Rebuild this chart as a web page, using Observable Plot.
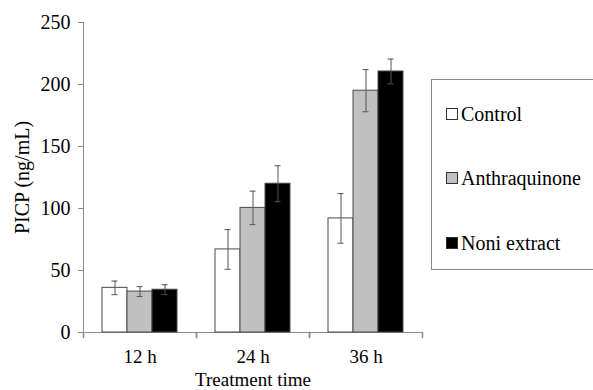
<!DOCTYPE html>
<html><head><meta charset="utf-8">
<script src="https://cdn.jsdelivr.net/npm/d3@7"></script>
<script src="https://cdn.jsdelivr.net/npm/@observablehq/plot@0.6"></script>
<style>
body{margin:0;background:#fff;}
#wrap{position:relative;width:593px;height:390px;font-family:"Liberation Serif",Tinos,"DejaVu Serif",serif;color:#000;}
#wrap svg{position:absolute;left:0;top:0;font-family:"Liberation Serif",Tinos,"DejaVu Serif",serif !important;}
#wrap svg text{font-family:"Liberation Serif",Tinos,"DejaVu Serif",serif !important;}
.legend{position:absolute;left:431px;top:79px;width:170px;height:191px;border:1.5px solid #8a8a8a;border-right:none;box-sizing:border-box;background:#fff;}
.item{position:absolute;left:14px;font-size:20px;line-height:20px;height:20px;display:flex;align-items:center;white-space:nowrap;}
.sw{width:12px;height:12px;border:1px solid #333;margin-right:3px;box-sizing:border-box;}
</style></head><body><div id="wrap"></div>
<script>
const times = ["12 h", "24 h", "36 h"];
const series = ["Control", "Anthraquinone", "Noni extract"];
const control = [36, 67, 92];
const controlErr = [5.5, 16, 20];
const anthraquinone = [33, 100.5, 195];
const anthraquinoneErr = [4, 13.5, 17];
const noni = [34.5, 120, 210.5];
const noniErr = [4, 14.5, 10];
const fills = ["#ffffff", "#c0c0c0", "#000000"];
const yTicks = [0, 50, 100, 150, 200, 250];

const values = [control, anthraquinone, noni];
const errs = [controlErr, anthraquinoneErr, noniErr];
const data = times.flatMap((t, i) => series.map((s, j) => ({time: t, series: s, value: values[j][i], err: errs[j][i]})));

const axisGray = "#8a8a8a";
const errColor = "#555";
const vline = {draw(ctx, l) { ctx.moveTo(0, 0); ctx.lineTo(0, -l); }};

const chart = Plot.plot({
  width: 593, height: 390,
  marginLeft: 82, marginRight: 170, marginTop: 22, marginBottom: 58,
  style: {fontSize: "20px", color: "#000", background: "transparent", overflow: "visible"},
  fx: {domain: times, padding: 0},
  x: {domain: series, axis: null, paddingInner: 0, paddingOuter: 0.72},
  y: {domain: [0, 250]},
  color: {domain: series, range: fills},
  marks: [
    Plot.frame({anchor: "left", facetAnchor: "left", stroke: axisGray}),
    Plot.ruleY([0], {stroke: axisGray}),
    Plot.vector([null], {frameAnchor: "bottom-left", length: 5, rotate: 180, anchor: "start", stroke: axisGray, shape: vline}),
    Plot.vector([null], {frameAnchor: "bottom-right", length: 5, rotate: 180, anchor: "start", stroke: axisGray, shape: vline}),
    Plot.axisY({ticks: yTicks, tickSize: 5, tickPadding: 8, stroke: axisGray, color: "#000", label: "PICP (ng/mL)", labelAnchor: "center", labelOffset: 69, labelArrow: "none"}),
    Plot.axisFx({anchor: "bottom", tickSize: 0, tickPadding: 17, color: "#000", fontSize: 19, label: "Treatment time", labelAnchor: "center", labelOffset: 53, labelArrow: "none"}),
    Plot.barY(data, {fx: "time", x: "series", y: "value", fill: "series", stroke: "#4a4a4a", strokeWidth: 1}),
    Plot.ruleX(data, {fx: "time", x: "series", y1: d => d.value - d.err, y2: d => d.value + d.err, stroke: errColor}),
    Plot.tickY(data, {fx: "time", x: "series", y: d => d.value + d.err, inset: 9.5, stroke: errColor}),
    Plot.tickY(data, {fx: "time", x: "series", y: d => d.value - d.err, inset: 9.5, stroke: errColor})
  ]
});
const wrap = document.getElementById("wrap");
wrap.appendChild(chart);

const legend = document.createElement("div");
legend.className = "legend";
const itemTops = [24, 88, 153];
series.forEach((s, j) => {
  const it = document.createElement("div");
  it.className = "item";
  it.style.top = itemTops[j] + "px";
  const sw = document.createElement("span");
  sw.className = "sw";
  sw.style.background = fills[j];
  it.appendChild(sw);
  it.appendChild(document.createTextNode(s));
  legend.appendChild(it);
});
wrap.appendChild(legend);
</script></body></html>
